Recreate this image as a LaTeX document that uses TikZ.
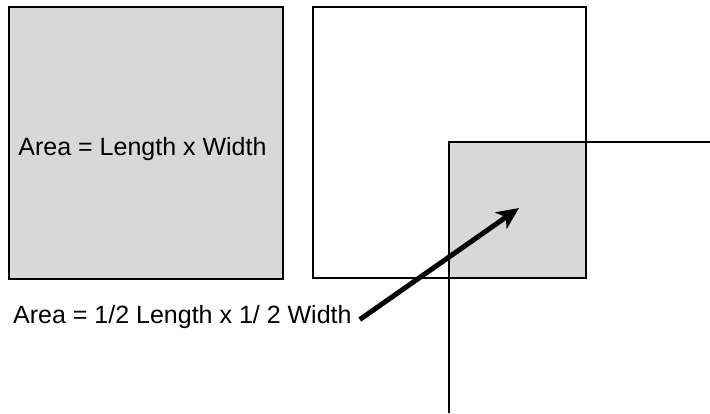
\documentclass[tikz,border=0pt]{standalone}
\usepackage{fontspec}
\setmainfont{Liberation Sans}
\usetikzlibrary{arrows.meta}
\definecolor{areagray}{HTML}{D8D8D8}
\tikzset{
  box/.style={draw=black, line width=2pt},
  lbl/.style={font=\fontsize{25}{30}\selectfont, inner sep=0pt},
  pointer/.style={line width=5pt, -{Stealth[length=22pt,width=20pt,inset=6pt]}},
  guide/.style={draw=black, line width=2pt}
}
\begin{document}
\begin{tikzpicture}[x=1pt,y=-1pt]
\useasboundingbox (0,0) rectangle (710,413);
% left square
\filldraw[box, fill=areagray] (9,7) rectangle (283,279);
% right square
\draw[box] (313,7) rectangle (586,278);
% inner gray quarter
\filldraw[box, fill=areagray] (449,142) rectangle (586,278);
% guide lines
\coordinate (corner) at (449,142);
\coordinate (hend) at (710,142);
\coordinate (vend) at (449,413);
\draw[guide] (hend) -- (corner) -- (vend);
% labels
\node[lbl] (full) at (142.5,149) {Area = Length x Width};
\node[lbl, anchor=base west] (half) at (13,323) {Area = 1/2 Length x 1/ 2 Width};
\coordinate (tip) at (519,208);
\draw[pointer] ([xshift=8pt,yshift=-3pt]half.east) -- (tip);
\end{tikzpicture}
\end{document}
